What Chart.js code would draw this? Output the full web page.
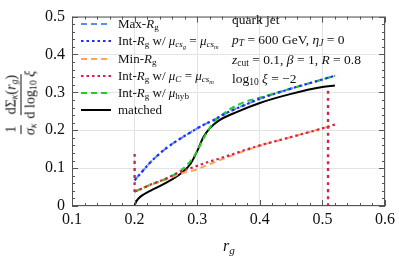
<!DOCTYPE html>
<html>
<head>
<meta charset="utf-8">
<script src="https://cdn.jsdelivr.net/npm/chart.js@4.4.1/dist/chart.umd.min.js"></script>
<style>
  html, body { margin: 0; padding: 0; background: #fff; }
  #wrap { position: relative; width: 399px; height: 258px; font-family: "Liberation Serif", "DejaVu Serif", serif; color: #111; }
  canvas { position: absolute; left: 0; top: 0; }
  .txt { position: absolute; white-space: nowrap; line-height: 1; }
  sub { font-size: 70%; vertical-align: -0.25em; line-height: 0; }
  .leg { left: 118px; font-size: 13px; }
  .note { left: 232px; font-size: 13.5px; }
  #ytitle { left: 21px; top: 103px; transform: translate(-50%, -50%) rotate(-90deg); font-size: 14px; display: flex; align-items: center; gap: 3px; }
  .frac { display: inline-flex; flex-direction: column; align-items: center; }
  .frac > span { padding: 0 1px; }
  .frac > span:first-child { border-bottom: 1px solid #111; padding-bottom: 2px; }
  .frac > span:last-child { padding-top: 2px; }
  #xtitle { left: 229px; top: 246px; transform: translate(-50%, -50%); font-size: 16px; }
</style>
</head>
<body>
<div id="wrap">
  <canvas id="chart" width="399" height="258"></canvas>

  <div class="txt leg" style="top:17px">Max-<i>R</i><sub>g</sub></div>
  <div class="txt leg" style="top:34px">Int-<i>R</i><sub>g</sub> w/ <i>μ</i><sub><i>cs<sub>g</sub></i></sub> = <i>μ</i><sub><i>cs<sub>m</sub></i></sub></div>
  <div class="txt leg" style="top:52px">Min-<i>R</i><sub>g</sub></div>
  <div class="txt leg" style="top:69px">Int-<i>R</i><sub>g</sub> w/ <i>μ<sub>C</sub></i> = <i>μ</i><sub><i>cs<sub>m</sub></i></sub></div>
  <div class="txt leg" style="top:86px">Int-<i>R</i><sub>g</sub> w/ <i>μ</i><sub>hyb</sub></div>
  <div class="txt leg" style="top:103px">matched</div>

  <div class="txt note" style="top:13px">quark jet</div>
  <div class="txt note" style="top:33px"><i>p<sub>T</sub></i> = 600 GeV, <i>η<sub>J</sub></i> = 0</div>
  <div class="txt note" style="top:53px"><i>z</i><sub>cut</sub> = 0.1, <i>β</i> = 1, <i>R</i> = 0.8</div>
  <div class="txt note" style="top:72px">log<sub>10</sub> <i>ξ</i> = −2</div>

  <div class="txt" id="ytitle">
    <span class="frac"><span>1</span><span><i>σ</i><sub><i>κ</i></sub></span></span>
    <span class="frac"><span>dΣ<sub><i>κ</i></sub>(<i>r</i><sub><i>g</i></sub>)</span><span>d log<sub>10</sub> <i>ξ</i></span></span>
  </div>
  <div class="txt" id="xtitle"><i>r</i><sub><i>g</i></sub></div>
</div>

<script>
// values
const rg = [0.2, 0.21, 0.225, 0.25, 0.275, 0.29, 0.3, 0.31, 0.325, 0.35, 0.375, 0.4, 0.45, 0.5, 0.52];
const maxRg = [0.068, 0.087, 0.115, 0.152, 0.18, 0.195, 0.205, 0.214, 0.226, 0.248, 0.266, 0.283, 0.31, 0.334, 0.344];
const intCsg = [0.068, 0.087, 0.115, 0.152, 0.18, 0.195, 0.205, 0.214, 0.226, 0.248, 0.266, 0.283, 0.31, 0.334, 0.344];
const minRg = [0.038, 0.045, 0.055, 0.07, 0.086, 0.092, 0.097, 0.104, 0.114, 0.13, 0.145, 0.159, 0.182, 0.205, 0.215];
const intC = [0.038, 0.045, 0.056, 0.072, 0.092, 0.1, 0.106, 0.112, 0.12, 0.133, 0.147, 0.16, 0.182, 0.205, 0.215];
const hyb = [0.038, 0.045, 0.056, 0.072, 0.095, 0.12, 0.145, 0.178, 0.218, 0.253, 0.274, 0.286, 0.31, 0.334, 0.344];

const rgM = [0.2, 0.202, 0.207, 0.215, 0.225, 0.25, 0.275, 0.29, 0.3, 0.31, 0.32, 0.335, 0.36, 0.4, 0.45, 0.5, 0.52];
const matched = [0, 0.01, 0.021, 0.031, 0.04, 0.061, 0.087, 0.113, 0.145, 0.182, 0.205, 0.226, 0.246, 0.272, 0.296, 0.314, 0.318];

// red dotted vertical edges
const edgeLeft = { x: [0.2, 0.2], y: [0.037, 0.14] };
const edgeRight = { x: [0.509, 0.509], y: [0, 0.313] };

const xTicks = [0.1, 0.2, 0.3, 0.4, 0.5, 0.6];
const yTicks = [0, 0.1, 0.2, 0.3, 0.4, 0.5];

const pts = (xs, ys) => xs.map((x, i) => ({ x: x, y: ys[i] }));
const isMajor = v => Math.abs(v * 10 - Math.round(v * 10)) < 1e-6;

const legendY = [24, 41, 59, 76, 93, 110];

const series = [
  { label: 'Max-Rg', data: pts(rg, maxRg), borderColor: '#5b8cf0', borderDash: [6, 4], width: 2, order: 4, leg: 0 },
  { label: 'Int-Rg csg', data: pts(rg, intCsg), borderColor: '#1f2bff', borderDash: [2.5, 3], width: 2.2, order: 1, leg: 1 },
  { label: 'Min-Rg', data: pts(rg, minRg), borderColor: '#ffa54d', borderDash: [6, 4], width: 2, order: 5, leg: 2 },
  { label: 'Int-Rg C', data: pts(rg, intC), borderColor: '#dc1e50', borderDash: [2.5, 3], width: 2.2, order: 2, leg: 3 },
  { label: 'hyb', data: pts(rg, hyb), borderColor: '#22cc22', borderDash: [6, 4], width: 2, order: 3, leg: 4 },
  { label: 'matched', data: pts(rgM, matched), borderColor: '#000', borderDash: [], width: 2, order: 6, leg: 5 },
  { label: 'edgeL', data: pts(edgeLeft.x, edgeLeft.y), borderColor: '#c8284f', borderDash: [3, 4], width: 2.4, order: 2 },
  { label: 'edgeR', data: pts(edgeRight.x, edgeRight.y), borderColor: '#c8284f', borderDash: [3, 4], width: 2.4, order: 2 }
];

const framePlugin = {
  id: 'frame',
  afterDatasetsDraw(chart) {
    const ctx = chart.ctx, a = chart.chartArea;
    const xs = chart.scales.x, ys = chart.scales.y;
    ctx.save();
    // legend samples
    series.forEach(s => {
      if (s.leg === undefined) return;
      const y = legendY[s.leg];
      ctx.strokeStyle = s.borderColor;
      ctx.lineWidth = s.width;
      ctx.setLineDash(s.borderDash);
      ctx.beginPath();
      ctx.moveTo(81, y);
      ctx.lineTo(111, y);
      ctx.stroke();
    });
    ctx.setLineDash([]);
    ctx.strokeStyle = '#555';
    ctx.lineWidth = 1;
    ctx.strokeRect(a.left + 0.5, a.top + 0.5, a.right - a.left - 1, a.bottom - a.top - 1);
    xs.ticks.forEach(t => {
      const px = Math.round(xs.getPixelForValue(t.value)) + 0.5;
      const len = isMajor(t.value) ? 6 : 3;
      ctx.beginPath();
      ctx.moveTo(px, a.bottom); ctx.lineTo(px, a.bottom - len);
      ctx.moveTo(px, a.top); ctx.lineTo(px, a.top + len);
      ctx.stroke();
    });
    ys.ticks.forEach(t => {
      const py = Math.round(ys.getPixelForValue(t.value)) + 0.5;
      const len = isMajor(t.value) ? 6 : 3;
      ctx.beginPath();
      ctx.moveTo(a.left, py); ctx.lineTo(a.left + len, py);
      ctx.moveTo(a.right, py); ctx.lineTo(a.right - len, py);
      ctx.stroke();
    });
    ctx.restore();
  }
};

new Chart(document.getElementById('chart'), {
  type: 'line',
  data: {
    datasets: series.map(s => ({
      label: s.label,
      data: s.data,
      borderColor: s.borderColor,
      borderDash: s.borderDash,
      borderWidth: s.width,
      pointRadius: 0,
      fill: false,
      tension: 0.4,
      cubicInterpolationMode: 'monotone',
      order: s.order
    }))
  },
  options: {
    responsive: false,
    animation: false,
    layout: { padding: { top: 10, right: 11, left: 0, bottom: 0 } },
    plugins: { legend: { display: false }, tooltip: { enabled: false } },
    scales: {
      x: {
        type: 'linear', min: 0.1, max: 0.6,
        afterBuildTicks: s => { s.ticks = []; for (let i = 0; i <= 25; i++) s.ticks.push({ value: +(0.1 + i * 0.02).toFixed(2) }); },
        afterFit: s => { s.height = 52; },
        border: { display: false },
        grid: { drawTicks: false, color: c => (c.tick && isMajor(c.tick.value)) ? '#e4e4e4' : 'rgba(0,0,0,0)' },
        ticks: {
          padding: 4, autoSkip: false, maxRotation: 0,
          color: '#111', font: { family: 'Liberation Serif', size: 16 },
          callback: v => isMajor(v) && xTicks.some(t => Math.abs(t - v) < 1e-6) ? (+v).toFixed(1) : ''
        }
      },
      y: {
        type: 'linear', min: 0, max: 0.5,
        afterBuildTicks: s => { s.ticks = []; for (let i = 0; i <= 25; i++) s.ticks.push({ value: +(i * 0.02).toFixed(2) }); },
        afterFit: s => { s.width = 72; },
        border: { display: false },
        grid: { drawTicks: false, color: c => (c.tick && isMajor(c.tick.value)) ? '#e4e4e4' : 'rgba(0,0,0,0)' },
        ticks: {
          padding: 7, autoSkip: false,
          color: '#111', font: { family: 'Liberation Serif', size: 16 },
          callback: v => isMajor(v) && yTicks.some(t => Math.abs(t - v) < 1e-6) ? (v === 0 ? '0' : (+v).toFixed(1)) : ''
        }
      }
    }
  },
  plugins: [framePlugin]
});
</script>
</body>
</html>
